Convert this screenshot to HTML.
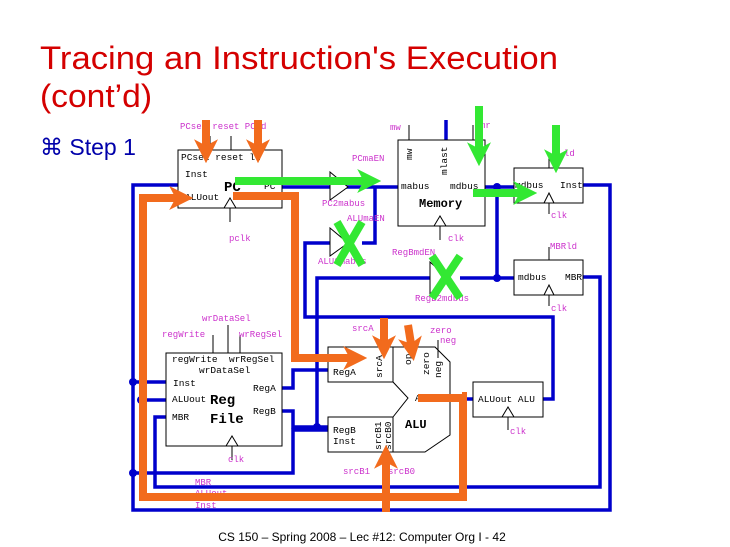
<!DOCTYPE html>
<html><head><meta charset="utf-8"><style>
html,body{margin:0;padding:0;background:#fff;width:730px;height:547px;overflow:hidden}
svg{display:block}
.m{font-family:"Liberation Mono",monospace;font-size:9px;fill:#cc33cc}
.k{font-family:"Liberation Mono",monospace;font-size:9.5px;fill:#000}
.kb{font-family:"Liberation Mono",monospace;font-size:14px;font-weight:bold;fill:#000}
</style></head><body>
<svg width="730" height="547" viewBox="0 0 730 547" xmlns="http://www.w3.org/2000/svg">
<defs>
<marker id="oa" markerWidth="3" markerHeight="3" refX="1.6" refY="1.5" orient="auto" markerUnits="strokeWidth"><path d="M0,0 L3,1.5 L0,3 L0.8,1.5z" fill="#f26b1d"/></marker>
<marker id="ga" markerWidth="3" markerHeight="3" refX="1.6" refY="1.5" orient="auto" markerUnits="strokeWidth"><path d="M0,0 L3,1.5 L0,3 L0.8,1.5z" fill="#33e833"/></marker>
</defs>
<text x="40" y="69" font-family="Liberation Sans,sans-serif" font-size="32" fill="#d40000" textLength="518" lengthAdjust="spacingAndGlyphs">Tracing an Instruction's Execution</text>
<text x="40" y="107" font-family="Liberation Sans,sans-serif" font-size="32" fill="#d40000" textLength="112" lengthAdjust="spacingAndGlyphs">(cont’d)</text>
<text x="40" y="155" font-family="Liberation Sans,sans-serif" font-size="23" fill="#0000aa">⌘ Step 1</text>

<!-- blue wires -->
<g stroke="#0000cc" stroke-width="3.5" fill="none">
<polyline points="178,185 133,185 133,510 610,510 610,185 583,185"/>
<polyline points="583,277 600,277 600,487 155,487 155,417 166,417"/>
<polyline points="141,400 166,400"/>
<polyline points="133,382 166,382"/>
<polyline points="133,473 293,473 293,430 328,430"/>
<polyline points="282,187 345,187"/>
<polyline points="345,187 398,187"/>
<polyline points="362,243 375,243 375,187"/>
<polyline points="543,399 553,399 553,317 305,317 305,243 330,243"/>
<polyline points="282,388 293,388 293,370 328,370"/>
<polyline points="282,411 293,411 293,427 328,427"/>
<polyline points="317,427 317,278 430,278"/>
<polyline points="460,278 514,278"/>
<polyline points="485,187 514,187"/>
<polyline points="497,187 497,278"/>
<polyline points="450,399 473,399"/>
<line x1="446" y1="120" x2="446" y2="140"/>
</g>
<g fill="#0000cc"><circle cx="133" cy="382" r="4"/><circle cx="133" cy="473" r="4"/><circle cx="141" cy="400" r="4"/><circle cx="317" cy="427" r="4"/><circle cx="497" cy="187" r="4"/><circle cx="497" cy="278" r="4"/></g>

<!-- boxes -->
<g stroke="#000" stroke-width="1" fill="#fff">
<rect x="178" y="150" width="104" height="58"/>
<rect x="398" y="140" width="87" height="86"/>
<rect x="514" y="168" width="69" height="35"/>
<rect x="514" y="260" width="69" height="35"/>
<rect x="166" y="353" width="116" height="93"/>
<rect x="328" y="347" width="65" height="35"/>
<rect x="328" y="417" width="65" height="35"/>
<rect x="473" y="382" width="70" height="35"/>
<polygon points="393,347 435,347 450,362 450,435 425,452 393,452 393,417 408,398 393,382"/>
<polygon points="330,172 348,187 330,200" fill="#fff"/>
<polygon points="330,228 348,243 330,256"/>
<polygon points="430,262 448,278 430,294"/>
</g>
<g stroke="#000" fill="none" stroke-width="1">
<polyline points="224,208 230,198 236,208"/><line x1="230" y1="208" x2="230" y2="222"/>
<polyline points="434,226 440,216 446,226"/>
<polyline points="544,203 549,193 554,203"/><polyline points="544,295 549,285 554,295"/>
<polyline points="226,446 232,436 238,446"/><polyline points="502,417 508,407 514,417"/>
<line x1="231" y1="136" x2="231" y2="150"/><line x1="210" y1="136" x2="210" y2="150"/><line x1="257" y1="136" x2="257" y2="150"/>
<line x1="409" y1="125" x2="409" y2="140"/><line x1="473" y1="125" x2="473" y2="140"/>
<line x1="549" y1="155" x2="549" y2="168"/><line x1="549" y1="247" x2="549" y2="260"/>
<line x1="213" y1="335" x2="213" y2="353"/><line x1="228" y1="325" x2="228" y2="353"/><line x1="240" y1="335" x2="240" y2="353"/>
<line x1="438" y1="340" x2="438" y2="358"/>
<line x1="440" y1="226" x2="440" y2="240"/><line x1="549" y1="203" x2="549" y2="214"/><line x1="549" y1="295" x2="549" y2="306"/>
<line x1="232" y1="446" x2="232" y2="460"/><line x1="508" y1="417" x2="508" y2="430"/>
</g>

<!-- labels -->
<text class="m" x="180" y="129">PCsel reset PCld</text>
<text class="k" x="181" y="160">PCsel reset ld</text>
<text class="k" x="185" y="177">Inst</text>
<text class="k" x="185" y="200">ALUout</text>
<text class="kb" x="224" y="191">PC</text>
<text class="k" x="264" y="189">PC</text>
<text class="m" x="229" y="241">pclk</text>
<text class="m" x="352" y="161">PCmaEN</text>
<text class="m" x="322" y="206">PC2mabus</text>
<text class="m" x="347" y="221">ALUmaEN</text>
<text class="m" x="318" y="264">ALU2mabus</text>
<text class="m" x="390" y="130">mw</text>
<text class="m" x="480" y="128">mr</text>
<text class="k" x="401" y="189">mabus</text>
<text class="k" x="450" y="189">mdbus</text>
<text class="kb" x="419" y="207" style="font-size:12px">Memory</text>
<text class="k" transform="translate(412,160) rotate(-90)">mw</text>
<text class="k" transform="translate(447,175) rotate(-90)">mlast</text>
<text class="m" x="448" y="241">clk</text>
<text class="m" x="564" y="156">ld</text>
<text class="k" x="515" y="188">mdbus</text>
<text class="k" x="560" y="188">Inst</text>
<text class="m" x="551" y="218">clk</text>
<text class="m" x="550" y="249">MBRld</text>
<text class="k" x="518" y="280">mdbus</text>
<text class="k" x="565" y="280">MBR</text>
<text class="m" x="551" y="311">clk</text>
<text class="m" x="392" y="255">RegBmdEN</text>
<text class="m" x="415" y="301">RegB2mdbus</text>
<text class="m" x="202" y="321">wrDataSel</text>
<text class="m" x="162" y="337">regWrite</text>
<text class="m" x="239" y="337">wrRegSel</text>
<text class="k" x="172" y="362">regWrite</text>
<text class="k" x="229" y="362">wrRegSel</text>
<text class="k" x="199" y="373">wrDataSel</text>
<text class="k" x="173" y="386">Inst</text>
<text class="k" x="172" y="402">ALUout</text>
<text class="k" x="172" y="420">MBR</text>
<text class="kb" x="210" y="404">Reg</text>
<text class="kb" x="210" y="423">File</text>
<text class="k" x="253" y="391">RegA</text>
<text class="k" x="253" y="414">RegB</text>
<text class="m" x="228" y="462">clk</text>
<text class="k" x="333" y="375">RegA</text>
<text class="k" x="333" y="433">RegB</text>
<text class="k" x="333" y="444">Inst</text>
<text class="m" x="352" y="331">srcA</text>
<text class="m" x="430" y="333">zero</text>
<text class="m" x="440" y="343">neg</text>
<text class="kb" x="405" y="428" style="font-size:12px">ALU</text>
<text class="k" x="415" y="401">ALUout</text>
<text class="k" x="478" y="402">ALUout ALU</text>
<text class="m" x="510" y="434">clk</text>
<text class="m" x="343" y="474">srcB1</text>
<text class="m" x="388" y="474">srcB0</text>
<text class="m" x="195" y="485">MBR</text>
<text class="m" x="195" y="496">ALUout</text>
<text class="m" x="195" y="508">Inst</text>
<text class="k" transform="translate(382,378) rotate(-90)">srcA</text>
<text class="k" transform="translate(381,450) rotate(-90)">srcB1</text>
<text class="k" transform="translate(391,450) rotate(-90)">srcB0</text>
<text class="k" transform="translate(411,365) rotate(-90)">op</text>
<text class="k" transform="translate(429,375) rotate(-90)">zero</text>
<text class="k" transform="translate(441,378) rotate(-90)">neg</text>

<!-- orange -->
<g stroke="#f26b1d" stroke-width="8" fill="none">
<line x1="206" y1="120" x2="206" y2="152" marker-end="url(#oa)"/>
<line x1="258" y1="120" x2="258" y2="152" marker-end="url(#oa)"/>
<polyline points="462,396 463,396 463,497 143,497 143,198 182,198" marker-end="url(#oa)"/>
<polyline points="233,196 295,196 295,358 356,358" marker-end="url(#oa)"/>
<line x1="384" y1="318" x2="384" y2="348" marker-end="url(#oa)"/>
<line x1="408" y1="325" x2="412" y2="350" marker-end="url(#oa)"/>
<line x1="386" y1="512" x2="386" y2="456" marker-end="url(#oa)"/>
<line x1="418" y1="398" x2="463" y2="398"/>
</g>
<!-- green -->
<g stroke="#33e833" stroke-width="8" fill="none">
<line x1="235" y1="181" x2="370" y2="181" marker-end="url(#ga)"/>
<line x1="479" y1="106" x2="479" y2="155" marker-end="url(#ga)"/>
<line x1="556" y1="125" x2="556" y2="162" marker-end="url(#ga)"/>
<line x1="473" y1="193" x2="526" y2="193" marker-end="url(#ga)"/>
<line x1="337" y1="222" x2="362" y2="265"/><line x1="362" y1="222" x2="337" y2="265"/>
<line x1="432" y1="256" x2="460" y2="298"/><line x1="460" y1="256" x2="432" y2="298"/>
</g>
<text x="362" y="541" text-anchor="middle" font-family="Liberation Sans,sans-serif" font-size="12" fill="#000">CS 150 – Spring 2008 – Lec #12: Computer Org I - 42</text>
</svg>
</body></html>
